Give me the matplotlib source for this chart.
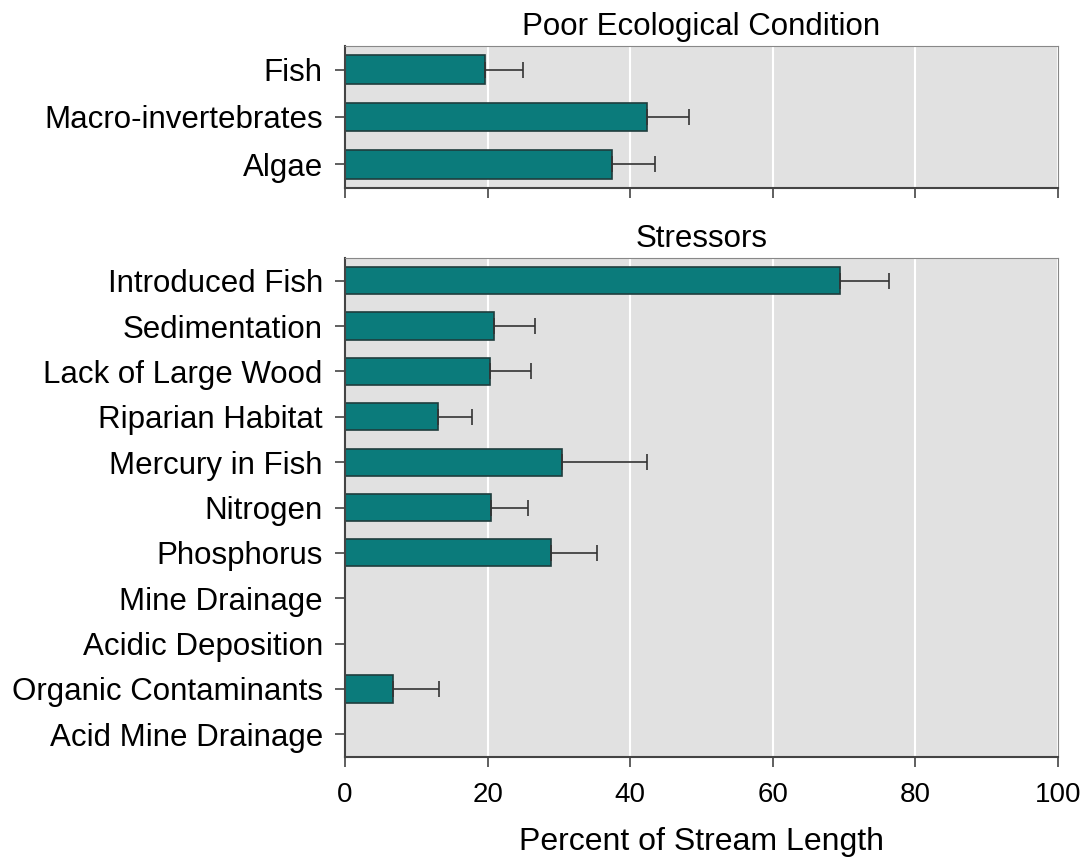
import matplotlib
matplotlib.use("Agg")
import matplotlib.pyplot as plt
import numpy as np

plt.rcParams['font.family'] = ['Liberation Sans', 'DejaVu Sans']

cond_labels = ["Fish", "Macro-invertebrates", "Algae"]
cond_values = [19.7, 42.4, 37.4]
cond_upper = [24.9, 48.3, 43.5]

stress_labels = ["Introduced Fish", "Sedimentation", "Lack of Large Wood",
                 "Riparian Habitat", "Mercury in Fish", "Nitrogen", "Phosphorus",
                 "Mine Drainage", "Acidic Deposition", "Organic Contaminants",
                 "Acid Mine Drainage"]
stress_values = [69.4, 20.9, 20.4, 13.1, 30.5, 20.5, 28.9, 0, 0, 6.7, 0]
stress_upper = [76.3, 26.7, 26.1, 17.8, 42.4, 25.6, 35.4, 0, 0, 13.2, 0]

xticks = [0, 20, 40, 60, 80, 100]

BAR = "#0b7b7b"
EDGE = "#1f3d3d"
BG = "#e1e1e1"

fig = plt.figure(figsize=(10.81, 8.59), dpi=100)
ax1 = fig.add_axes([345/1081, 1-188/859, (1058-345)/1081, (188-46)/859])
ax2 = fig.add_axes([345/1081, 1-757/859, (1058-345)/1081, (757-258)/859])


def draw(ax, labels, vals, upper, title, show_xlabels):
    y = np.arange(len(labels))
    ax.set_facecolor(BG)
    ax.set_axisbelow(True)
    ax.grid(axis='x', color='white', linewidth=1.5)
    ax.grid(axis='y', visible=False)
    err = [max(u - v, 0) for u, v in zip(upper, vals)]
    mask = [v > 0 for v in vals]
    ax.barh(y, vals, height=0.6, color=BAR, edgecolor=EDGE, linewidth=1.2)
    ym = [yy for yy, m in zip(y, mask) if m]
    vm = [v for v, m in zip(vals, mask) if m]
    em = [e for e, m in zip(err, mask) if m]
    ax.errorbar(vm, ym, xerr=[np.zeros(len(em)), em], fmt='none',
                ecolor='#333333', elinewidth=1.2, capsize=6, capthick=1.2)
    ax.set_xlim(0, 100)
    ax.set_ylim(len(labels) - 0.5, -0.5)
    ax.set_yticks(y)
    ax.set_yticklabels(labels, fontsize=22.5)
    ax.set_xticks(xticks)
    if show_xlabels:
        ax.set_xticklabels([str(t) for t in xticks], fontsize=20)
    else:
        ax.set_xticklabels([])
    ax.tick_params(axis='both', direction='out', length=7, width=1.2,
                   color='#444444', pad=9)
    ax.tick_params(axis='x', pad=11)
    for s in ['left', 'bottom']:
        ax.spines[s].set_color('#444444')
        ax.spines[s].set_linewidth(1.5)
    for s in ['top', 'right']:
        ax.spines[s].set_color('#888888')
        ax.spines[s].set_linewidth(0.8)
    ax.set_title(title, fontsize=22.5, pad=8)


draw(ax1, cond_labels, cond_values, cond_upper, "Poor Ecological Condition", False)
draw(ax2, stress_labels, stress_values, stress_upper, "Stressors", True)
ax2.set_xlabel("Percent of Stream Length", fontsize=23, labelpad=14)

fig.savefig("out.png", dpi=100, facecolor='white')
